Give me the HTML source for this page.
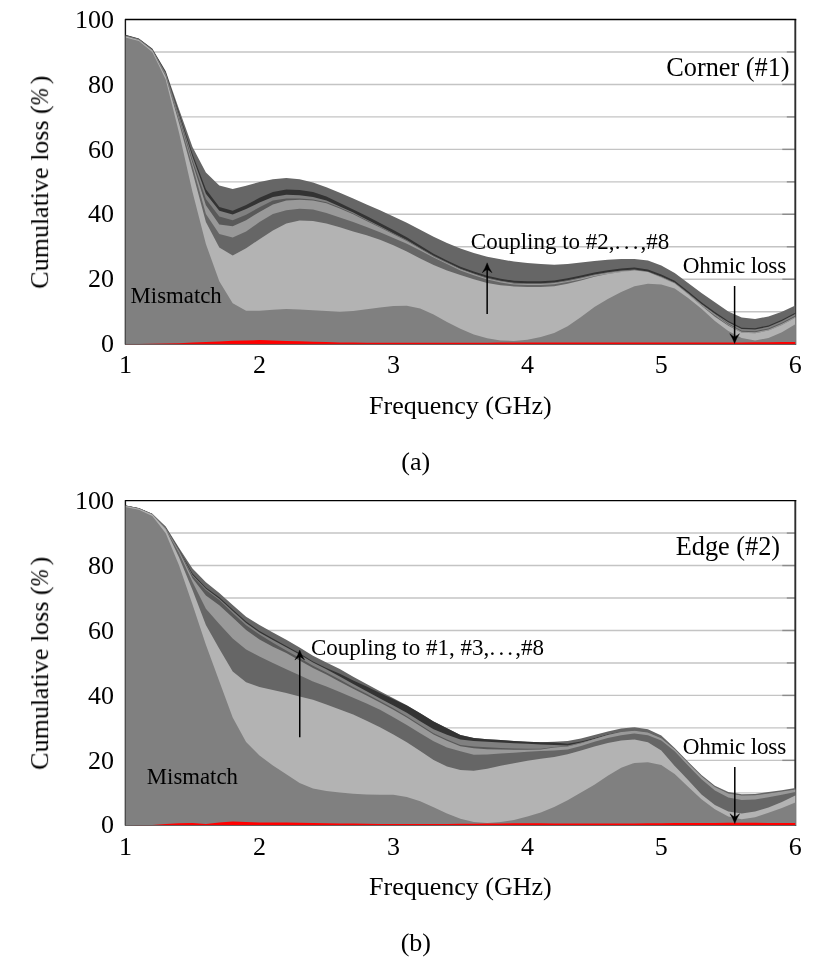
<!DOCTYPE html>
<html><head><meta charset="utf-8"><title>Cumulative loss</title>
<style>
html,body{margin:0;padding:0;background:#fff;}
body{width:832px;height:962px;overflow:hidden;}
svg{display:block;}
text{will-change:transform;font-family:"Liberation Serif",serif;fill:#000;}
</style></head><body>
<svg width="832" height="962" viewBox="0 0 832 962">
<rect width="832" height="962" fill="#fff"/>
<line x1="125.5" x2="795.3000000000001" y1="51.97" y2="51.97" stroke="#c4c4c4" stroke-width="1.4"/>
<line x1="786.8000000000001" x2="795.3000000000001" y1="51.97" y2="51.97" stroke="#8c8c8c" stroke-width="1.4"/>
<line x1="125.5" x2="795.3000000000001" y1="84.44" y2="84.44" stroke="#c4c4c4" stroke-width="1.4"/>
<line x1="782.3000000000001" x2="795.3000000000001" y1="84.44" y2="84.44" stroke="#8c8c8c" stroke-width="1.4"/>
<line x1="125.5" x2="795.3000000000001" y1="116.91" y2="116.91" stroke="#c4c4c4" stroke-width="1.4"/>
<line x1="786.8000000000001" x2="795.3000000000001" y1="116.91" y2="116.91" stroke="#8c8c8c" stroke-width="1.4"/>
<line x1="125.5" x2="795.3000000000001" y1="149.38" y2="149.38" stroke="#c4c4c4" stroke-width="1.4"/>
<line x1="782.3000000000001" x2="795.3000000000001" y1="149.38" y2="149.38" stroke="#8c8c8c" stroke-width="1.4"/>
<line x1="125.5" x2="795.3000000000001" y1="181.85" y2="181.85" stroke="#c4c4c4" stroke-width="1.4"/>
<line x1="786.8000000000001" x2="795.3000000000001" y1="181.85" y2="181.85" stroke="#8c8c8c" stroke-width="1.4"/>
<line x1="125.5" x2="795.3000000000001" y1="214.32" y2="214.32" stroke="#c4c4c4" stroke-width="1.4"/>
<line x1="782.3000000000001" x2="795.3000000000001" y1="214.32" y2="214.32" stroke="#8c8c8c" stroke-width="1.4"/>
<line x1="125.5" x2="795.3000000000001" y1="246.79" y2="246.79" stroke="#c4c4c4" stroke-width="1.4"/>
<line x1="786.8000000000001" x2="795.3000000000001" y1="246.79" y2="246.79" stroke="#8c8c8c" stroke-width="1.4"/>
<line x1="125.5" x2="795.3000000000001" y1="279.26" y2="279.26" stroke="#c4c4c4" stroke-width="1.4"/>
<line x1="782.3000000000001" x2="795.3000000000001" y1="279.26" y2="279.26" stroke="#8c8c8c" stroke-width="1.4"/>
<line x1="125.5" x2="795.3000000000001" y1="311.73" y2="311.73" stroke="#c4c4c4" stroke-width="1.4"/>
<line x1="786.8000000000001" x2="795.3000000000001" y1="311.73" y2="311.73" stroke="#8c8c8c" stroke-width="1.4"/>
<line x1="125.45" x2="125.45" y1="19.5" y2="344.5" stroke="#000" stroke-width="1.3"/>
<line x1="795.3000000000001" x2="795.3000000000001" y1="18.9" y2="344.8" stroke="#2e2e2e" stroke-width="1.9"/>
<polygon fill="#666666" points="125.5,344.2 125.5,34.8 138.9,38.5 152.3,48.6 165.7,71.0 179.1,109.5 192.5,147.0 205.9,172.5 219.3,185.5 232.7,189.0 246.1,185.8 259.5,182.0 272.9,179.3 286.3,177.9 299.6,179.3 313.0,182.6 326.4,187.3 339.8,192.7 353.2,198.6 366.6,204.5 380.0,210.3 393.4,216.5 406.8,222.7 420.2,229.7 433.6,236.7 447.0,243.1 460.4,248.6 473.8,253.1 487.2,256.7 500.6,259.2 514.0,261.6 527.4,263.1 540.8,264.1 554.2,264.8 567.6,263.9 581.0,262.6 594.4,261.1 607.8,259.7 621.2,258.9 634.5,258.9 647.9,260.4 661.3,265.4 674.7,273.1 688.1,283.0 701.5,292.9 714.9,302.3 728.3,311.6 741.7,317.5 755.1,319.0 768.5,316.5 781.9,311.7 795.3,305.6 795.3,344.2"/>
<polygon fill="#333333" points="125.5,344.2 125.5,35.1 138.9,38.8 152.3,49.0 165.7,72.0 179.1,113.0 192.5,153.9 205.9,189.2 219.3,206.9 232.7,210.7 246.1,205.0 259.5,197.8 272.9,191.9 286.3,189.4 299.6,189.9 313.0,191.9 326.4,196.6 339.8,203.0 353.2,209.4 366.6,216.0 380.0,222.9 393.4,230.1 406.8,237.3 420.2,245.5 433.6,253.7 447.0,260.6 460.4,266.7 473.8,271.5 487.2,275.8 500.6,278.7 514.0,280.8 527.4,281.3 540.8,281.3 554.2,280.5 567.6,278.3 581.0,275.6 594.4,272.5 607.8,270.2 621.2,268.4 634.5,267.6 647.9,269.6 661.3,274.4 674.7,280.8 688.1,291.3 701.5,302.2 714.9,311.9 728.3,321.0 741.7,327.7 755.1,328.2 768.5,325.4 781.9,319.8 795.3,312.7 795.3,344.2"/>
<polygon fill="#808080" points="125.5,344.2 125.5,35.4 138.9,39.1 152.3,49.4 165.7,72.9 179.1,114.7 192.5,156.8 205.9,193.8 219.3,210.7 232.7,214.6 246.1,209.0 259.5,202.5 272.9,197.0 286.3,194.8 299.6,195.2 313.0,196.9 326.4,200.6 339.8,206.5 353.2,212.6 366.6,219.6 380.0,226.3 393.4,233.2 406.8,240.1 420.2,247.9 433.6,255.7 447.0,262.3 460.4,268.7 473.8,273.5 487.2,277.8 500.6,280.7 514.0,282.8 527.4,283.3 540.8,283.3 554.2,282.5 567.6,280.3 581.0,277.6 594.4,274.5 607.8,272.2 621.2,270.4 634.5,269.6 647.9,271.6 661.3,276.4 674.7,282.6 688.1,293.1 701.5,304.0 714.9,313.7 728.3,322.3 741.7,329.0 755.1,329.5 768.5,326.7 781.9,321.1 795.3,314.0 795.3,344.2"/>
<polygon fill="#595959" points="125.5,344.2 125.5,35.6 138.9,39.3 152.3,49.6 165.7,73.6 179.1,116.5 192.5,160.2 205.9,198.9 219.3,216.5 232.7,220.3 246.1,214.8 259.5,207.2 272.9,200.6 286.3,198.5 299.6,198.6 313.0,199.4 326.4,202.3 339.8,207.6 353.2,213.4 366.6,220.3 380.0,226.9 393.4,233.7 406.8,240.5 420.2,248.3 433.6,256.1 447.0,262.7 460.4,269.0 473.8,273.8 487.2,278.1 500.6,281.0 514.0,283.1 527.4,283.6 540.8,283.6 554.2,282.8 567.6,280.6 581.0,277.9 594.4,274.8 607.8,272.5 621.2,270.7 634.5,269.9 647.9,271.9 661.3,276.7 674.7,282.9 688.1,293.4 701.5,304.3 714.9,314.0 728.3,323.5 741.7,330.7 755.1,331.2 768.5,328.4 781.9,322.8 795.3,315.7 795.3,344.2"/>
<polygon fill="#999999" points="125.5,344.2 125.5,35.8 138.9,39.5 152.3,49.9 165.7,74.3 179.1,118.2 192.5,163.1 205.9,205.2 219.3,224.4 232.7,226.2 246.1,220.3 259.5,211.9 272.9,204.6 286.3,200.6 299.6,199.8 313.0,200.6 326.4,203.3 339.8,208.6 353.2,214.2 366.6,221.0 380.0,227.5 393.4,234.2 406.8,240.9 420.2,248.7 433.6,256.5 447.0,263.1 460.4,269.3 473.8,274.1 487.2,278.4 500.6,281.3 514.0,283.4 527.4,283.9 540.8,283.9 554.2,283.1 567.6,280.9 581.0,278.2 594.4,275.1 607.8,272.8 621.2,271.0 634.5,270.2 647.9,272.2 661.3,277.0 674.7,283.2 688.1,293.7 701.5,304.6 714.9,314.3 728.3,324.3 741.7,331.7 755.1,332.2 768.5,329.4 781.9,323.8 795.3,316.7 795.3,344.2"/>
<polygon fill="#666666" points="125.5,344.2 125.5,36.1 138.9,39.8 152.3,50.2 165.7,75.3 179.1,120.0 192.5,166.1 205.9,214.0 219.3,234.0 232.7,237.6 246.1,231.5 259.5,222.1 272.9,214.1 286.3,210.2 299.6,208.7 313.0,209.5 326.4,212.9 339.8,217.5 353.2,222.0 366.6,226.9 380.0,232.3 393.4,238.0 406.8,243.7 420.2,250.5 433.6,257.5 447.0,264.1 460.4,270.5 473.8,275.3 487.2,279.6 500.6,282.5 514.0,284.6 527.4,285.1 540.8,285.1 554.2,284.3 567.6,282.1 581.0,279.4 594.4,276.3 607.8,274.0 621.2,272.2 634.5,271.4 647.9,273.4 661.3,278.2 674.7,284.1 688.1,294.6 701.5,305.5 714.9,315.2 728.3,325.1 741.7,332.8 755.1,333.3 768.5,330.5 781.9,324.9 795.3,317.8 795.3,344.2"/>
<polygon fill="#b3b3b3" points="125.5,344.2 125.5,36.3 138.9,40.0 152.3,50.5 165.7,76.4 179.1,123.5 192.5,172.0 205.9,222.0 219.3,247.6 232.7,255.4 246.1,248.2 259.5,239.3 272.9,230.5 286.3,223.4 299.6,220.5 313.0,221.0 326.4,223.5 339.8,227.2 353.2,231.4 366.6,235.3 380.0,239.7 393.4,245.3 406.8,251.5 420.2,258.5 433.6,265.0 447.0,270.5 460.4,275.0 473.8,279.2 487.2,283.0 500.6,285.2 514.0,286.4 527.4,286.9 540.8,286.9 554.2,286.3 567.6,283.7 581.0,280.5 594.4,276.8 607.8,274.0 621.2,271.9 634.5,270.5 647.9,272.0 661.3,277.7 674.7,283.6 688.1,294.2 701.5,305.7 714.9,316.8 728.3,325.8 741.7,332.8 755.1,333.3 768.5,330.5 781.9,324.9 795.3,317.8 795.3,344.2"/>
<polygon fill="#808080" points="125.5,344.2 125.5,37.4 138.9,41.1 152.3,51.9 165.7,79.6 179.1,133.0 192.5,192.0 205.9,244.0 219.3,281.3 232.7,303.2 246.1,310.7 259.5,310.8 272.9,309.7 286.3,308.9 299.6,309.4 313.0,310.2 326.4,311.1 339.8,311.8 353.2,310.9 366.6,309.2 380.0,307.5 393.4,306.0 406.8,305.7 420.2,308.5 433.6,314.4 447.0,322.0 460.4,328.7 473.8,334.6 487.2,338.3 500.6,340.5 514.0,341.0 527.4,339.7 540.8,337.1 554.2,332.9 567.6,326.2 581.0,316.9 594.4,306.9 607.8,299.0 621.2,292.0 634.5,286.3 647.9,283.8 661.3,284.6 674.7,288.6 688.1,298.0 701.5,308.7 714.9,321.0 728.3,331.0 741.7,337.9 755.1,340.4 768.5,338.1 781.9,332.2 795.3,324.2 795.3,344.2"/>
<polygon fill="#ff0000" points="125.5,344.2 125.5,344.0 138.9,343.9 152.3,343.8 165.7,343.5 179.1,343.2 192.5,342.6 205.9,342.0 219.3,341.4 232.7,340.8 246.1,340.5 259.5,340.1 272.9,340.5 286.3,340.9 299.6,341.3 313.0,341.7 326.4,342.1 339.8,342.5 353.2,342.6 366.6,342.8 380.0,342.8 393.4,342.8 406.8,342.8 420.2,342.8 433.6,342.7 447.0,342.7 460.4,342.7 473.8,342.7 487.2,342.7 500.6,342.6 514.0,342.6 527.4,342.6 540.8,342.6 554.2,342.6 567.6,342.6 581.0,342.5 594.4,342.5 607.8,342.5 621.2,342.4 634.5,342.4 647.9,342.4 661.3,342.5 674.7,342.5 688.1,342.5 701.5,342.4 714.9,342.4 728.3,342.4 741.7,342.4 755.1,342.3 768.5,342.2 781.9,342.1 795.3,342.0 795.3,344.2"/>
<line x1="124.9" x2="796.2" y1="19.5" y2="19.5" stroke="#000" stroke-width="1.3"/>
<line x1="125.35" x2="125.35" y1="19.5" y2="344.5" stroke="#222" stroke-width="0.7"/>
<line x1="125.0" x2="796.1" y1="344.4" y2="344.4" stroke="#555" stroke-width="0.7"/>
<text x="113.9" y="27.6" text-anchor="end" font-size="26">100</text>
<text x="113.9" y="92.5" text-anchor="end" font-size="26">80</text>
<text x="113.9" y="157.5" text-anchor="end" font-size="26">60</text>
<text x="113.9" y="222.4" text-anchor="end" font-size="26">40</text>
<text x="113.9" y="287.4" text-anchor="end" font-size="26">20</text>
<text x="113.9" y="352.3" text-anchor="end" font-size="26">0</text>
<text x="125.5" y="373.4" text-anchor="middle" font-size="26">1</text>
<text x="259.5" y="373.4" text-anchor="middle" font-size="26">2</text>
<text x="393.4" y="373.4" text-anchor="middle" font-size="26">3</text>
<text x="527.4" y="373.4" text-anchor="middle" font-size="26">4</text>
<text x="661.3" y="373.4" text-anchor="middle" font-size="26">5</text>
<text x="795.3" y="373.4" text-anchor="middle" font-size="26">6</text>
<text x="460.4" y="413.5" text-anchor="middle" font-size="26">Frequency (GHz)</text>
<text x="415.8" y="469.7" text-anchor="middle" font-size="26">(a)</text>
<text transform="translate(48.1,105.3) rotate(-90)" text-anchor="end" font-size="26">Cumulative loss (</text>
<text transform="translate(48.1,105.6) rotate(-90) scale(0.82,1)" font-style="italic" font-size="26">%</text>
<text transform="translate(48.1,84.3) rotate(-90)" font-size="26">)</text>
<text x="727.9" y="76.1" text-anchor="middle" font-size="26.3">Corner (#1)</text>
<text x="470.8" y="249.4" font-size="23">Coupling to #2,<tspan dx="0.2">.</tspan><tspan dx="3.2">.</tspan><tspan dx="3.2">.</tspan><tspan dx="2.2">,</tspan>#8</text>
<text x="734.5" y="273.2" text-anchor="middle" textLength="103.4" font-size="23.2">Ohmic loss</text>
<text x="130.6" y="302.6" font-size="22.8">Mismatch</text>
<line x1="487.15" x2="487.15" y1="314" y2="267.8" stroke="#000" stroke-width="1.5"/>
<path d="M487.15,262.8 Q488.95,268.3 492.0,272.7 Q489.15,270.40000000000003 487.15,269.40000000000003 Q485.15,270.40000000000003 482.29999999999995,272.7 Q485.34999999999997,268.3 487.15,262.8Z" fill="#000" stroke="#000" stroke-width="0.4" stroke-linejoin="round"/>
<line x1="734.6" x2="734.6" y1="286" y2="338.6" stroke="#000" stroke-width="1.5"/>
<path d="M734.6,343.6 Q736.4,338.1 739.45,333.70000000000005 Q736.6,336.0 734.6,337.0 Q732.6,336.0 729.75,333.70000000000005 Q732.8000000000001,338.1 734.6,343.6Z" fill="#000" stroke="#000" stroke-width="0.4" stroke-linejoin="round"/>
<line x1="125.5" x2="795.3000000000001" y1="533.07" y2="533.07" stroke="#c4c4c4" stroke-width="1.4"/>
<line x1="786.8000000000001" x2="795.3000000000001" y1="533.07" y2="533.07" stroke="#8c8c8c" stroke-width="1.4"/>
<line x1="125.5" x2="795.3000000000001" y1="565.54" y2="565.54" stroke="#c4c4c4" stroke-width="1.4"/>
<line x1="782.3000000000001" x2="795.3000000000001" y1="565.54" y2="565.54" stroke="#8c8c8c" stroke-width="1.4"/>
<line x1="125.5" x2="795.3000000000001" y1="598.01" y2="598.01" stroke="#c4c4c4" stroke-width="1.4"/>
<line x1="786.8000000000001" x2="795.3000000000001" y1="598.01" y2="598.01" stroke="#8c8c8c" stroke-width="1.4"/>
<line x1="125.5" x2="795.3000000000001" y1="630.48" y2="630.48" stroke="#c4c4c4" stroke-width="1.4"/>
<line x1="782.3000000000001" x2="795.3000000000001" y1="630.48" y2="630.48" stroke="#8c8c8c" stroke-width="1.4"/>
<line x1="125.5" x2="795.3000000000001" y1="662.95" y2="662.95" stroke="#c4c4c4" stroke-width="1.4"/>
<line x1="786.8000000000001" x2="795.3000000000001" y1="662.95" y2="662.95" stroke="#8c8c8c" stroke-width="1.4"/>
<line x1="125.5" x2="795.3000000000001" y1="695.42" y2="695.42" stroke="#c4c4c4" stroke-width="1.4"/>
<line x1="782.3000000000001" x2="795.3000000000001" y1="695.42" y2="695.42" stroke="#8c8c8c" stroke-width="1.4"/>
<line x1="125.5" x2="795.3000000000001" y1="727.89" y2="727.89" stroke="#c4c4c4" stroke-width="1.4"/>
<line x1="786.8000000000001" x2="795.3000000000001" y1="727.89" y2="727.89" stroke="#8c8c8c" stroke-width="1.4"/>
<line x1="125.5" x2="795.3000000000001" y1="760.36" y2="760.36" stroke="#c4c4c4" stroke-width="1.4"/>
<line x1="782.3000000000001" x2="795.3000000000001" y1="760.36" y2="760.36" stroke="#8c8c8c" stroke-width="1.4"/>
<line x1="125.5" x2="795.3000000000001" y1="792.83" y2="792.83" stroke="#c4c4c4" stroke-width="1.4"/>
<line x1="786.8000000000001" x2="795.3000000000001" y1="792.83" y2="792.83" stroke="#8c8c8c" stroke-width="1.4"/>
<line x1="125.45" x2="125.45" y1="500.6" y2="825.5999999999999" stroke="#000" stroke-width="1.3"/>
<line x1="795.3000000000001" x2="795.3000000000001" y1="500.0" y2="825.9" stroke="#2e2e2e" stroke-width="1.9"/>
<polygon fill="#666666" points="125.5,825.3 125.5,505.4 138.9,508.1 152.3,513.8 165.7,526.6 179.1,547.9 192.5,568.6 205.9,582.3 219.3,593.0 232.7,604.9 246.1,616.7 259.5,625.1 272.9,632.5 286.3,639.8 299.6,647.5 313.0,655.7 326.4,662.6 339.8,669.1 353.2,676.7 366.6,684.0 380.0,691.3 393.4,698.3 406.8,705.3 420.2,713.3 433.6,721.6 447.0,728.3 460.4,735.0 473.8,738.0 487.2,739.3 500.6,740.1 514.0,741.0 527.4,741.7 540.8,742.2 554.2,741.8 567.6,741.0 581.0,738.6 594.4,735.0 607.8,731.4 621.2,728.6 634.5,727.2 647.9,729.2 661.3,735.5 674.7,747.9 688.1,761.8 701.5,775.0 714.9,785.8 728.3,792.1 741.7,794.3 755.1,793.9 768.5,792.1 781.9,790.3 795.3,788.1 795.3,825.3"/>
<polygon fill="#333333" points="125.5,825.3 125.5,505.5 138.9,508.2 152.3,513.9 165.7,527.2 179.1,549.4 192.5,573.5 205.9,587.4 219.3,597.3 232.7,609.6 246.1,621.6 259.5,630.9 272.9,638.5 286.3,646.0 299.6,653.3 313.0,661.4 326.4,667.9 339.8,673.8 353.2,680.4 366.6,686.5 380.0,693.1 393.4,699.3 406.8,705.6 420.2,713.3 433.6,721.6 447.0,728.3 460.4,735.0 473.8,738.0 487.2,739.3 500.6,740.1 514.0,741.0 527.4,741.7 540.8,742.2 554.2,742.6 567.6,743.8 581.0,741.6 594.4,738.2 607.8,734.6 621.2,732.0 634.5,730.8 647.9,732.6 661.3,738.2 674.7,749.2 688.1,763.1 701.5,776.3 714.9,787.1 728.3,793.4 741.7,795.6 755.1,795.2 768.5,793.4 781.9,791.6 795.3,789.4 795.3,825.3"/>
<polygon fill="#808080" points="125.5,825.3 125.5,505.5 138.9,508.2 152.3,514.0 165.7,527.6 179.1,550.0 192.5,575.0 205.9,588.8 219.3,598.7 232.7,611.0 246.1,623.1 259.5,632.4 272.9,639.9 286.3,647.3 299.6,654.6 313.0,662.5 326.4,669.2 339.8,676.4 353.2,684.0 366.6,691.3 380.0,698.5 393.4,705.6 406.8,712.8 420.2,721.2 433.6,729.2 447.0,734.8 460.4,739.4 473.8,741.0 487.2,741.8 500.6,742.5 514.0,743.2 527.4,743.8 540.8,744.4 554.2,745.0 567.6,745.4 581.0,742.6 594.4,738.9 607.8,735.0 621.2,732.1 634.5,730.8 647.9,732.6 661.3,738.2 674.7,749.2 688.1,763.1 701.5,776.3 714.9,787.1 728.3,793.4 741.7,795.6 755.1,795.2 768.5,793.4 781.9,791.6 795.3,789.4 795.3,825.3"/>
<polygon fill="#595959" points="125.5,825.3 125.5,505.6 138.9,508.3 152.3,514.1 165.7,528.0 179.1,550.6 192.5,576.1 205.9,589.9 219.3,600.1 232.7,613.0 246.1,625.2 259.5,634.6 272.9,642.8 286.3,650.4 299.6,658.0 313.0,665.7 326.4,672.4 339.8,679.6 353.2,686.9 366.6,693.8 380.0,701.1 393.4,708.2 406.8,716.2 420.2,724.8 433.6,733.2 447.0,739.4 460.4,744.9 473.8,746.5 487.2,747.3 500.6,748.0 514.0,748.5 527.4,748.8 540.8,748.8 554.2,747.0 567.6,746.2 581.0,743.1 594.4,739.0 607.8,735.0 621.2,732.1 634.5,730.8 647.9,732.6 661.3,738.2 674.7,749.2 688.1,763.1 701.5,776.3 714.9,787.1 728.3,793.4 741.7,795.6 755.1,795.2 768.5,793.4 781.9,791.6 795.3,789.4 795.3,825.3"/>
<polygon fill="#999999" points="125.5,825.3 125.5,505.7 138.9,508.4 152.3,514.2 165.7,528.4 179.1,551.2 192.5,578.3 205.9,595.4 219.3,605.2 232.7,617.5 246.1,630.1 259.5,639.4 272.9,646.7 286.3,653.0 299.6,660.5 313.0,667.9 326.4,674.5 339.8,681.8 353.2,688.7 366.6,695.5 380.0,702.5 393.4,709.7 406.8,717.5 420.2,726.1 433.6,734.6 447.0,740.7 460.4,746.2 473.8,748.2 487.2,749.2 500.6,749.6 514.0,749.8 527.4,749.8 540.8,749.6 554.2,747.6 567.6,746.5 581.0,743.3 594.4,739.0 607.8,735.0 621.2,732.1 634.5,730.8 647.9,732.6 661.3,738.2 674.7,749.2 688.1,763.1 701.5,776.3 714.9,787.1 728.3,793.4 741.7,795.6 755.1,795.2 768.5,793.4 781.9,791.6 795.3,789.4 795.3,825.3"/>
<polygon fill="#666666" points="125.5,825.3 125.5,505.8 138.9,508.6 152.3,514.4 165.7,529.0 179.1,553.0 192.5,581.9 205.9,608.8 219.3,623.9 232.7,638.6 246.1,649.4 259.5,656.4 272.9,662.9 286.3,669.3 299.6,675.3 313.0,681.4 326.4,686.6 339.8,692.0 353.2,697.8 366.6,703.6 380.0,709.8 393.4,717.3 406.8,725.0 420.2,733.3 433.6,741.2 447.0,747.6 460.4,751.2 473.8,754.7 487.2,754.4 500.6,753.4 514.0,752.7 527.4,751.7 540.8,750.9 554.2,750.6 567.6,749.4 581.0,746.0 594.4,741.7 607.8,738.0 621.2,735.2 634.5,733.4 647.9,735.2 661.3,740.6 674.7,751.2 688.1,765.6 701.5,779.3 714.9,790.6 728.3,797.4 741.7,800.1 755.1,799.4 768.5,797.2 781.9,794.8 795.3,791.9 795.3,825.3"/>
<polygon fill="#b3b3b3" points="125.5,825.3 125.5,506.0 138.9,508.7 152.3,514.6 165.7,529.3 179.1,557.5 192.5,589.9 205.9,625.0 219.3,648.8 232.7,671.6 246.1,682.2 259.5,686.9 272.9,690.1 286.3,693.0 299.6,696.5 313.0,699.8 326.4,704.5 339.8,709.5 353.2,714.5 366.6,720.7 380.0,727.3 393.4,734.5 406.8,742.3 420.2,751.0 433.6,760.1 447.0,766.5 460.4,770.0 473.8,770.8 487.2,768.7 500.6,765.7 514.0,763.2 527.4,760.7 540.8,758.7 554.2,757.0 567.6,754.3 581.0,750.6 594.4,746.5 607.8,743.0 621.2,740.6 634.5,739.5 647.9,742.3 661.3,750.6 674.7,765.9 688.1,779.9 701.5,794.4 714.9,804.9 728.3,811.5 741.7,813.4 755.1,811.6 768.5,807.6 781.9,802.0 795.3,795.6 795.3,825.3"/>
<polygon fill="#808080" points="125.5,825.3 125.5,507.1 138.9,509.8 152.3,516.0 165.7,533.3 179.1,565.5 192.5,604.6 205.9,644.8 219.3,681.3 232.7,717.5 246.1,741.9 259.5,755.4 272.9,765.5 286.3,774.2 299.6,783.0 313.0,788.4 326.4,791.0 339.8,792.4 353.2,793.8 366.6,794.4 380.0,794.7 393.4,794.7 406.8,797.0 420.2,801.3 433.6,807.2 447.0,813.4 460.4,818.7 473.8,822.1 487.2,822.9 500.6,822.1 514.0,819.9 527.4,816.5 540.8,812.5 554.2,806.9 567.6,800.2 581.0,792.6 594.4,784.7 607.8,775.8 621.2,767.7 634.5,762.9 647.9,762.3 661.3,765.0 674.7,774.1 688.1,786.7 701.5,799.3 714.9,809.2 728.3,816.4 741.7,819.2 755.1,817.3 768.5,812.8 781.9,808.0 795.3,802.5 795.3,825.3"/>
<polygon fill="#ff0000" points="125.5,825.3 125.5,825.3 138.9,825.1 152.3,824.9 165.7,824.1 179.1,823.3 192.5,823.0 205.9,823.9 219.3,822.4 232.7,821.4 246.1,821.9 259.5,822.6 272.9,822.5 286.3,822.4 299.6,822.7 313.0,822.9 326.4,823.2 339.8,823.4 353.2,823.6 366.6,823.7 380.0,823.9 393.4,824.1 406.8,824.0 420.2,824.0 433.6,823.9 447.0,823.9 460.4,823.8 473.8,823.7 487.2,823.6 500.6,823.4 514.0,823.3 527.4,823.2 540.8,823.3 554.2,823.4 567.6,823.4 581.0,823.5 594.4,823.6 607.8,823.5 621.2,823.4 634.5,823.4 647.9,823.3 661.3,823.2 674.7,823.1 688.1,823.0 701.5,823.0 714.9,822.9 728.3,822.8 741.7,822.8 755.1,822.8 768.5,822.9 781.9,822.9 795.3,822.9 795.3,825.3"/>
<line x1="124.9" x2="796.2" y1="500.6" y2="500.6" stroke="#000" stroke-width="1.3"/>
<line x1="125.35" x2="125.35" y1="500.6" y2="825.5999999999999" stroke="#222" stroke-width="0.7"/>
<line x1="125.0" x2="796.1" y1="825.5" y2="825.5" stroke="#555" stroke-width="0.7"/>
<text x="113.9" y="508.7" text-anchor="end" font-size="26">100</text>
<text x="113.9" y="573.6" text-anchor="end" font-size="26">80</text>
<text x="113.9" y="638.6" text-anchor="end" font-size="26">60</text>
<text x="113.9" y="703.5" text-anchor="end" font-size="26">40</text>
<text x="113.9" y="768.5" text-anchor="end" font-size="26">20</text>
<text x="113.9" y="833.4" text-anchor="end" font-size="26">0</text>
<text x="125.5" y="854.5" text-anchor="middle" font-size="26">1</text>
<text x="259.5" y="854.5" text-anchor="middle" font-size="26">2</text>
<text x="393.4" y="854.5" text-anchor="middle" font-size="26">3</text>
<text x="527.4" y="854.5" text-anchor="middle" font-size="26">4</text>
<text x="661.3" y="854.5" text-anchor="middle" font-size="26">5</text>
<text x="795.3" y="854.5" text-anchor="middle" font-size="26">6</text>
<text x="460.4" y="894.6" text-anchor="middle" font-size="26">Frequency (GHz)</text>
<text x="415.8" y="950.8" text-anchor="middle" font-size="26">(b)</text>
<text transform="translate(48.1,586.4) rotate(-90)" text-anchor="end" font-size="26">Cumulative loss (</text>
<text transform="translate(48.1,586.7) rotate(-90) scale(0.82,1)" font-style="italic" font-size="26">%</text>
<text transform="translate(48.1,565.4) rotate(-90)" font-size="26">)</text>
<text x="727.9" y="555.1" text-anchor="middle" font-size="26.3">Edge (#2)</text>
<text x="311.0" y="655.4" font-size="23">Coupling to #1, #3,<tspan dx="0.2">.</tspan><tspan dx="3.2">.</tspan><tspan dx="3.2">.</tspan><tspan dx="2.2">,</tspan>#8</text>
<text x="734.5" y="754.4000000000001" text-anchor="middle" textLength="103.4" font-size="23.2">Ohmic loss</text>
<text x="146.8" y="783.6" font-size="22.8">Mismatch</text>
<line x1="299.75" x2="299.75" y1="737.2" y2="655.1" stroke="#000" stroke-width="1.5"/>
<path d="M299.75,650.1 Q301.55,655.6 304.6,660.0 Q301.75,657.7 299.75,656.7 Q297.75,657.7 294.9,660.0 Q297.95,655.6 299.75,650.1Z" fill="#000" stroke="#000" stroke-width="0.4" stroke-linejoin="round"/>
<line x1="734.8" x2="734.8" y1="767" y2="818.6" stroke="#000" stroke-width="1.5"/>
<path d="M734.8,823.6 Q736.5999999999999,818.1 739.65,813.7 Q736.8,816.0 734.8,817.0 Q732.8,816.0 729.9499999999999,813.7 Q733.0,818.1 734.8,823.6Z" fill="#000" stroke="#000" stroke-width="0.4" stroke-linejoin="round"/>

</svg>
</body></html>
